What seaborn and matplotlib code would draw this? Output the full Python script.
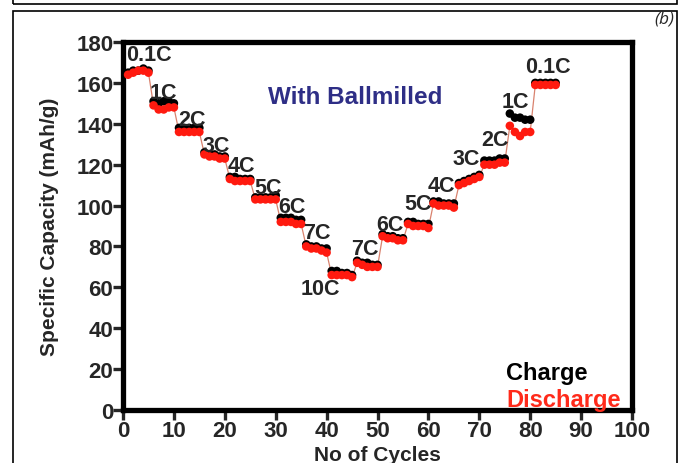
import numpy as np
import pandas as pd
import matplotlib
matplotlib.use("Agg")
import matplotlib.pyplot as plt
from matplotlib.patches import Rectangle
import seaborn as sns

# capacity values (mAh/g) per cycle, 5 cycles per rate
charge = [165, 166, 166, 167, 166,
          151, 150, 151, 151, 150,
          138, 138, 138, 138, 138,
          126, 125, 125, 124, 124,
          114, 114, 113, 113, 113,
          104, 104, 104, 104, 105,
          94, 94, 94, 93, 93,
          81, 80, 80, 79, 79,
          68, 68, 67, 67, 66,
          73, 72, 72, 71, 71,
          86, 85, 85, 84, 84,
          92, 92, 91, 91, 91,
          102, 102, 101, 101, 101,
          111, 112, 113, 114, 115,
          122, 122, 122, 123, 123,
          145, 143, 143, 142, 142,
          160, 160, 160, 160, 160]
discharge = [164, 165, 166, 166, 165,
             149, 147, 147, 148, 148,
             136, 136, 136, 136, 136,
             125, 124, 124, 123, 123,
             113, 112, 112, 112, 112,
             103, 103, 103, 103, 103,
             92, 92, 92, 91, 91,
             80, 79, 79, 78, 77,
             66, 66, 66, 66, 65,
             72, 71, 70, 70, 70,
             85, 84, 84, 83, 83,
             91, 90, 90, 90, 89,
             101, 100, 100, 100, 99,
             110, 111, 112, 113, 114,
             120, 120, 120, 121, 121,
             139, 136, 134, 136, 136,
             159, 159, 159, 159, 159]
cycles = list(range(1, len(charge) + 1))

rate_labels = ["0.1C", "1C", "2C", "3C", "4C", "5C", "6C", "7C", "10C",
               "7C", "6C", "5C", "4C", "3C", "2C", "1C", "0.1C"]
label_x = [5.0, 8.0, 13.6, 18.3, 23.2, 28.5, 33.2, 38.1, 38.7,
           47.5, 52.4, 58.0, 62.5, 67.4, 73.1, 77.0, 83.5]
label_y = [174, 155.5, 142, 129.5, 119.5, 109, 99.5, 87, 59.5,
           79, 90.5, 101, 110, 123, 132.5, 151, 168]

df = pd.DataFrame({"cycle": cycles, "charge": charge, "discharge": discharge})

sns.set_style("white")
plt.rcParams["font.family"] = ["Liberation Sans", "DejaVu Sans"]

fig = plt.figure(figsize=(6.86, 4.64), dpi=100)
fig.patch.set_facecolor("white")
ax = fig.add_axes([123 / 686, 53 / 464, 509 / 686, 368 / 464])

sns.lineplot(data=df, x="cycle", y="discharge", color="#d9826e", lw=0.9, ax=ax, zorder=2)
sns.scatterplot(data=df, x="cycle", y="charge", color="black", s=38,
                edgecolor="none", ax=ax, zorder=3)
sns.scatterplot(data=df, x="cycle", y="discharge", color="#ff1a0f", s=38,
                edgecolor="none", ax=ax, zorder=4)

for lab, x, y in zip(rate_labels, label_x, label_y):
    ax.text(x, y, lab, ha="center", va="center", fontsize=15.5, fontweight="bold", zorder=5)

ax.text(45.6, 153.5, "With Ballmilled", ha="center", va="center", fontsize=17.5,
        fontweight="bold", color="#2e2e86")
ax.text(75.3, 18.5, "Charge", ha="left", va="center", fontsize=17, fontweight="bold",
        color="black")
ax.text(75.3, 5.0, "Discharge", ha="left", va="center", fontsize=17, fontweight="bold",
        color="#ff2a1a")

ax.set_xlim(0, 100)
ax.set_ylim(0, 180)
ax.set_xticks(range(0, 101, 10))
ax.set_yticks(range(0, 181, 20))
ax.set_xlabel("No of Cycles", fontsize=15, fontweight="bold", labelpad=3)
ax.set_ylabel("Specific Capacity (mAh/g)", fontsize=15, fontweight="bold", labelpad=12)
ax.tick_params(direction="out", length=7, width=2.4, labelsize=16, pad=0,
               left=True, bottom=True)
for lab in ax.get_xticklabels() + ax.get_yticklabels():
    lab.set_fontweight("bold")
for sp in ax.spines.values():
    sp.set_visible(True)
    sp.set_linewidth(3.8)
    sp.set_color("black")

# panel frames
fig.patches.append(Rectangle((13 / 686, -0.05), 664 / 686, 1.0 - 12 / 464 + 0.05,
                             transform=fig.transFigure, fill=False, lw=1.2,
                             edgecolor="black"))
fig.patches.append(Rectangle((13 / 686, 1 - 5 / 464), 664 / 686, 0.2,
                             transform=fig.transFigure, fill=False, lw=1.2,
                             edgecolor="black"))
fig.text(674 / 686, 1 - 19 / 464, "(b)", ha="right", va="center", fontsize=12.5,
         style="italic", family=["Open Sans", "DejaVu Sans"])

fig.savefig("out.png", dpi=100)
